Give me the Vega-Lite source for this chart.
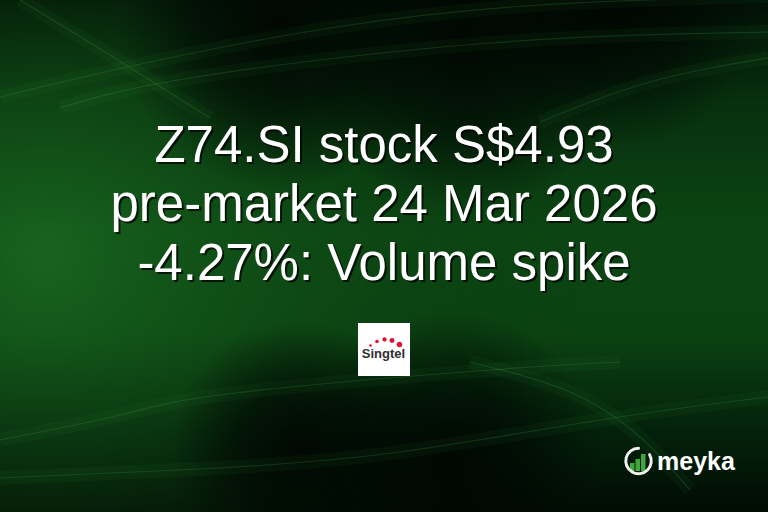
{
  "$schema": "https://vega.github.io/schema/vega-lite/v6.json",
  "width": 768,
  "height": 512,
  "autosize": {"type": "fit", "contains": "padding"},
  "padding": 0,
  "background": "#021006",
  "config": {"view": {"stroke": null}},
  "datasets": {
    "frame": [{"x": 0, "x2": 768, "y": 0, "y2": 512}],
    "shades": [
      {"x": 120, "x2": 440, "y": -130, "y2": 190},
      {"x": 300, "x2": 630, "y": -120, "y2": 210},
      {"x": 470, "x2": 760, "y": -140, "y2": 150},
      {"x": 170, "x2": 430, "y": 320, "y2": 580},
      {"x": 300, "x2": 600, "y": 310, "y2": 610}
    ],
    "streaks": [
      {"streak": "a", "step": 1, "x": 0, "y": 97},
      {"streak": "a", "step": 2, "x": 150, "y": 62},
      {"streak": "a", "step": 3, "x": 343, "y": 26},
      {"streak": "a", "step": 4, "x": 540, "y": 5},
      {"streak": "a", "step": 5, "x": 768, "y": -4},
      {"streak": "b", "step": 1, "x": 60, "y": 108},
      {"streak": "b", "step": 2, "x": 196, "y": 77},
      {"streak": "b", "step": 3, "x": 490, "y": 43},
      {"streak": "b", "step": 4, "x": 768, "y": 32},
      {"streak": "c", "step": 1, "x": 540, "y": 122},
      {"streak": "c", "step": 2, "x": 650, "y": 82},
      {"streak": "c", "step": 3, "x": 768, "y": 58},
      {"streak": "d", "step": 1, "x": 20, "y": 0},
      {"streak": "d", "step": 2, "x": 110, "y": 55},
      {"streak": "d", "step": 3, "x": 210, "y": 118},
      {"streak": "e", "step": 1, "x": 0, "y": 440},
      {"streak": "e", "step": 2, "x": 120, "y": 415},
      {"streak": "e", "step": 3, "x": 235, "y": 393},
      {"streak": "e", "step": 4, "x": 490, "y": 370},
      {"streak": "e", "step": 5, "x": 620, "y": 362},
      {"streak": "f", "step": 1, "x": 0, "y": 478},
      {"streak": "f", "step": 2, "x": 200, "y": 469},
      {"streak": "f", "step": 3, "x": 392, "y": 453},
      {"streak": "f", "step": 4, "x": 600, "y": 420},
      {"streak": "f", "step": 5, "x": 768, "y": 397},
      {"streak": "g", "step": 1, "x": 470, "y": 362},
      {"streak": "g", "step": 2, "x": 570, "y": 392},
      {"streak": "g", "step": 3, "x": 640, "y": 437},
      {"streak": "g", "step": 4, "x": 690, "y": 490}
    ],
    "headline": [
      {"line": "Z74.SI stock S$4.93", "x": 384, "y": 162},
      {"line": "pre-market 24 Mar 2026", "x": 384, "y": 221},
      {"line": "-4.27%: Volume spike", "x": 384, "y": 280}
    ],
    "logoBox": [{"x": 358, "x2": 410, "y": 323, "y2": 376}],
    "logoDots": [
      {"x": 370.5, "y": 345.5, "rank": 1},
      {"x": 377, "y": 341.5, "rank": 2},
      {"x": 384.5, "y": 339.5, "rank": 3},
      {"x": 392, "y": 340.5, "rank": 4},
      {"x": 399.5, "y": 344.5, "rank": 5}
    ],
    "logoWord": [{"word": "Singtel", "x": 383.5, "y": 357.5}],
    "brandBars": [
      {"x": 630, "x2": 634.5, "y": 463, "y2": 471},
      {"x": 635.5, "x2": 640, "y": 459, "y2": 471},
      {"x": 641, "x2": 645.5, "y": 454, "y2": 471}
    ],
    "brandRing": [{"x": 638.5, "y": 461}],
    "brandWord": [{"word": "meyka", "x": 657, "y": 470}]
  },
  "encoding": {
    "x": {"field": "x", "type": "quantitative", "scale": {"domain": [0, 768], "nice": false, "zero": false}, "axis": null},
    "y": {"field": "y", "type": "quantitative", "scale": {"domain": [0, 512], "reverse": true, "nice": false, "zero": false}, "axis": null}
  },
  "layer": [
    {
      "data": {"name": "frame"},
      "mark": {
        "type": "rect",
        "clip": true,
        "color": {
          "gradient": "linear", "x1": 0, "y1": 0, "x2": 0, "y2": 1,
          "stops": [
            {"offset": 0, "color": "#011005"},
            {"offset": 0.2, "color": "#07300e"},
            {"offset": 0.45, "color": "#0c4513"},
            {"offset": 0.65, "color": "#0b4212"},
            {"offset": 0.85, "color": "#03200a"},
            {"offset": 1, "color": "#010c03"}
          ]
        }
      },
      "encoding": {"x2": {"field": "x2"}, "y2": {"field": "y2"}}
    },
    {
      "data": {"name": "frame"},
      "mark": {
        "type": "rect",
        "clip": true,
        "color": {
          "gradient": "radial", "x1": 0.06, "y1": 0.5, "x2": 0.06, "y2": 0.5, "r1": 0, "r2": 0.7,
          "stops": [
            {"offset": 0, "color": "rgba(34,125,40,0.55)"},
            {"offset": 0.5, "color": "rgba(20,90,25,0.22)"},
            {"offset": 1, "color": "rgba(0,40,5,0)"}
          ]
        }
      },
      "encoding": {"x2": {"field": "x2"}, "y2": {"field": "y2"}}
    },
    {
      "data": {"name": "shades"},
      "mark": {
        "type": "rect",
        "clip": true,
        "color": {
          "gradient": "radial", "x1": 0.5, "y1": 0.5, "x2": 0.5, "y2": 0.5, "r1": 0, "r2": 0.5,
          "stops": [
            {"offset": 0, "color": "rgba(0,5,1,0.9)"},
            {"offset": 0.5, "color": "rgba(0,6,2,0.6)"},
            {"offset": 1, "color": "rgba(0,8,2,0)"}
          ]
        }
      },
      "encoding": {"x2": {"field": "x2"}, "y2": {"field": "y2"}}
    },
    {
      "data": {"name": "streaks"},
      "mark": {"type": "line", "clip": true, "interpolate": "natural", "color": "#3fae48", "strokeWidth": 14, "opacity": 0.06},
      "encoding": {"detail": {"field": "streak"}, "order": {"field": "step"}}
    },
    {
      "data": {"name": "streaks"},
      "mark": {"type": "line", "clip": true, "interpolate": "natural", "color": "#5fd06a", "strokeWidth": 1.2, "opacity": 0.16},
      "encoding": {"detail": {"field": "streak"}, "order": {"field": "step"}}
    },
    {
      "data": {"name": "headline"},
      "mark": {"type": "text", "align": "center", "baseline": "alphabetic", "font": "Liberation Sans", "fontSize": 51, "color": "#000000", "opacity": 0.7, "dx": 2, "dy": 2},
      "encoding": {"text": {"field": "line"}}
    },
    {
      "data": {"name": "headline"},
      "mark": {"type": "text", "align": "center", "baseline": "alphabetic", "font": "Liberation Sans", "fontSize": 51, "color": "#ffffff"},
      "encoding": {"text": {"field": "line"}}
    },
    {
      "data": {"name": "logoBox"},
      "mark": {"type": "rect", "color": "#ffffff"},
      "encoding": {"x2": {"field": "x2"}, "y2": {"field": "y2"}}
    },
    {
      "data": {"name": "logoDots"},
      "mark": {"type": "circle", "color": "#e3122f", "opacity": 1},
      "encoding": {
        "size": {"field": "rank", "type": "quantitative", "scale": {"domain": [1, 5], "range": [7, 30]}, "legend": null}
      }
    },
    {
      "data": {"name": "logoWord"},
      "mark": {"type": "text", "align": "center", "baseline": "alphabetic", "font": "Liberation Sans", "fontSize": 13, "fontWeight": "bold", "color": "#2e2e2e"},
      "encoding": {"text": {"field": "word"}}
    },
    {
      "data": {"name": "brandBars"},
      "mark": {"type": "rect", "color": "#3fa83a"},
      "encoding": {"x2": {"field": "x2"}, "y2": {"field": "y2"}}
    },
    {
      "data": {"name": "brandRing"},
      "mark": {"type": "point", "shape": "M 0,-1 A 1,1 0 1,0 0.87,-0.5", "filled": false, "size": 650, "stroke": "#f2f2f2", "strokeWidth": 3, "opacity": 1, "strokeCap": "round"}
    },
    {
      "data": {"name": "brandWord"},
      "mark": {"type": "text", "align": "left", "baseline": "alphabetic", "font": "Liberation Sans", "fontSize": 25, "fontWeight": "bold", "color": "#ffffff"},
      "encoding": {"text": {"field": "word"}}
    }
  ]
}
